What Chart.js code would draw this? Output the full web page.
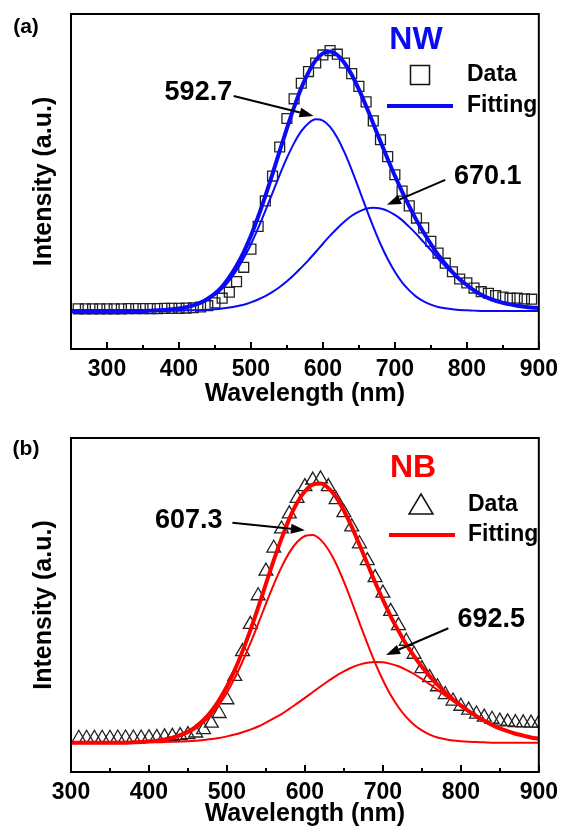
<!DOCTYPE html>
<html>
<head>
<meta charset="utf-8">
<script src="https://cdn.jsdelivr.net/npm/chart.js@4.4.1/dist/chart.umd.min.js"></script>
<style>
  html, body { margin: 0; padding: 0; background: #fff; }
  .panel { position: absolute; left: 0; width: 565px; height: 414px; }
  #pa { top: 0; }
  #pb { top: 414px; }
</style>
</head>
<body>
<div class="panel" id="pa"><canvas id="chartA" width="565" height="414"></canvas></div>
<div class="panel" id="pb"><canvas id="chartB" width="565" height="414"></canvas></div>
<script>
// ---- panel (a) : NW ----
const waveA = [250, 260, 270, 280, 290, 300, 310, 320, 330, 340, 350, 360, 370, 380, 390, 400, 410, 420, 430, 440,
  450, 460, 470, 480, 490, 500, 510, 520, 530, 540, 550, 560, 570, 580, 590, 600, 610, 620, 630, 640,
  650, 660, 670, 680, 690, 700, 710, 720, 730, 740, 750, 760, 770, 780, 790, 800, 810, 820, 830, 840,
  850, 860, 870, 880, 890, 900];
const fitA = [0, 0, 0, 0, 0, 0, 0, 0, 0, 0, 0, 0.001, 0.002, 0.003, 0.006, 0.009, 0.014, 0.021, 0.032, 0.047,
  0.067, 0.094, 0.130, 0.174, 0.227, 0.290, 0.363, 0.443, 0.528, 0.617, 0.704, 0.786, 0.860, 0.920, 0.966, 0.993, 1.000, 0.987, 0.956, 0.911,
  0.854, 0.790, 0.722, 0.653, 0.586, 0.521, 0.460, 0.403, 0.350, 0.302, 0.258, 0.217, 0.182, 0.150, 0.122, 0.100, 0.079, 0.062, 0.049, 0.039,
  0.031, 0.025, 0.020, 0.016, 0.013, 0.011];
const peak1A = [0, 0, 0, 0, 0, 0, 0, 0, 0, 0, 0, 0.001, 0.002, 0.003, 0.005, 0.008, 0.012, 0.019, 0.029, 0.043,
  0.061, 0.085, 0.117, 0.156, 0.203, 0.257, 0.319, 0.386, 0.455, 0.525, 0.590, 0.647, 0.693, 0.724, 0.739, 0.734, 0.710, 0.668, 0.611, 0.544,
  0.471, 0.396, 0.324, 0.258, 0.200, 0.151, 0.110, 0.079, 0.054, 0.037, 0.024, 0.015, 0.010, 0.006, 0.003, 0.002, 0.001, 0, 0, 0,
  0, 0, 0, 0, 0, 0];
const peak2A = [0, 0, 0, 0, 0, 0, 0, 0, 0, 0, 0, 0, 0, 0, 0.001, 0.001, 0.002, 0.002, 0.003, 0.004,
  0.006, 0.009, 0.013, 0.018, 0.024, 0.033, 0.044, 0.057, 0.073, 0.092, 0.114, 0.139, 0.167, 0.196, 0.227, 0.259, 0.290, 0.319, 0.345, 0.367,
  0.383, 0.394, 0.398, 0.395, 0.386, 0.370, 0.350, 0.324, 0.296, 0.265, 0.234, 0.202, 0.172, 0.144, 0.119, 0.098, 0.078, 0.062, 0.049, 0.039,
  0.031, 0.025, 0.020, 0.016, 0.013, 0.011];
const dataWaveA = [260, 270, 280, 290, 300, 310, 320, 330, 340, 350, 360, 370, 380, 390, 400, 410, 420, 430, 440, 450,
  460, 470, 480, 490, 500, 510, 520, 530, 540, 550, 560, 570, 580, 590, 600, 610, 620, 630, 640, 650,
  660, 670, 680, 690, 700, 710, 720, 730, 740, 750, 760, 770, 780, 790, 800, 810, 820, 830, 840, 850,
  860, 870, 880, 890];
const dataA = [0.008, 0.008, 0.008, 0.008, 0.008, 0.008, 0.008, 0.009, 0.009, 0.009, 0.009, 0.009, 0.010, 0.010, 0.010, 0.011, 0.012, 0.015, 0.020, 0.031,
  0.049, 0.072, 0.113, 0.168, 0.238, 0.326, 0.424, 0.520, 0.632, 0.742, 0.818, 0.878, 0.923, 0.956, 0.987, 1.004, 0.990, 0.956, 0.915, 0.866,
  0.806, 0.733, 0.660, 0.595, 0.525, 0.462, 0.405, 0.358, 0.320, 0.268, 0.223, 0.184, 0.151, 0.123, 0.108, 0.088, 0.074, 0.068, 0.059, 0.053,
  0.049, 0.049, 0.046, 0.045];
const xTicksA = [300, 400, 500, 600, 700, 800, 900];
const xMinorA = [350, 450, 550, 650, 750, 850];

// ---- panel (b) : NB ----
const waveB = [300, 310, 320, 330, 340, 350, 360, 370, 380, 390, 400, 410, 420, 430, 440, 450, 460, 470, 480, 490,
  500, 510, 520, 530, 540, 550, 560, 570, 580, 590, 600, 610, 620, 630, 640, 650, 660, 670, 680, 690,
  700, 710, 720, 730, 740, 750, 760, 770, 780, 790, 800, 810, 820, 830, 840, 850, 860, 870, 880, 890, 900];
const fitB = [0, 0, 0, 0, 0, 0, 0, 0, 0.001, 0.002, 0.005, 0.007, 0.012, 0.019, 0.029, 0.042, 0.061, 0.087, 0.121, 0.164,
  0.216, 0.279, 0.352, 0.432, 0.519, 0.611, 0.701, 0.785, 0.861, 0.923, 0.967, 0.993, 0.997, 0.980, 0.945, 0.893, 0.831, 0.761, 0.689, 0.617,
  0.550, 0.486, 0.430, 0.378, 0.333, 0.292, 0.256, 0.223, 0.194, 0.167, 0.143, 0.121, 0.102, 0.084, 0.068, 0.055, 0.044, 0.034, 0.027, 0.020, 0.015];
const peak1B = [0, 0, 0, 0, 0, 0, 0, 0, 0.001, 0.002, 0.004, 0.006, 0.010, 0.016, 0.025, 0.037, 0.054, 0.077, 0.107, 0.146,
  0.192, 0.248, 0.312, 0.382, 0.457, 0.534, 0.608, 0.675, 0.731, 0.772, 0.795, 0.799, 0.781, 0.743, 0.688, 0.619, 0.542, 0.461, 0.382, 0.307,
  0.241, 0.183, 0.136, 0.098, 0.069, 0.047, 0.031, 0.020, 0.013, 0.008, 0.005, 0.003, 0.002, 0.001, 0, 0, 0, 0, 0, 0, 0];
const peak2B = [0, 0, 0, 0, 0, 0, 0, 0, 0, 0, 0.001, 0.001, 0.002, 0.003, 0.004, 0.005, 0.007, 0.010, 0.014, 0.018,
  0.024, 0.031, 0.040, 0.050, 0.062, 0.077, 0.093, 0.110, 0.130, 0.151, 0.172, 0.194, 0.216, 0.237, 0.257, 0.274, 0.289, 0.300, 0.307, 0.310,
  0.309, 0.303, 0.294, 0.280, 0.264, 0.245, 0.225, 0.203, 0.181, 0.159, 0.138, 0.118, 0.100, 0.083, 0.068, 0.055, 0.044, 0.034, 0.027, 0.020, 0.015];
const dataWaveB = [310, 320, 330, 340, 350, 360, 370, 380, 390, 400, 410, 420, 430, 440, 450, 460, 470, 480, 490, 500,
  510, 520, 530, 540, 550, 560, 570, 580, 590, 600, 610, 620, 630, 640, 650, 660, 670, 680, 690, 700,
  710, 720, 730, 740, 750, 760, 770, 780, 790, 800, 810, 820, 830, 840, 850, 860, 870, 880, 890, 900];
const dataB = [0.017, 0.017, 0.017, 0.017, 0.017, 0.018, 0.018, 0.018, 0.018, 0.019, 0.020, 0.022, 0.024, 0.027, 0.031, 0.037, 0.050, 0.075, 0.112, 0.165,
  0.255, 0.350, 0.455, 0.565, 0.660, 0.748, 0.822, 0.880, 0.940, 0.985, 1.010, 1.015, 0.985, 0.935, 0.885, 0.830, 0.765, 0.700, 0.635, 0.575,
  0.505, 0.450, 0.390, 0.340, 0.285, 0.250, 0.215, 0.185, 0.160, 0.140, 0.125, 0.110, 0.098, 0.090, 0.083, 0.080, 0.077, 0.076, 0.075, 0.075];
const xTicksB = [300, 400, 500, 600, 700, 800, 900];
const xMinorB = [350, 450, 550, 650, 750, 850];

const FONT = '"Liberation Sans", Arial, sans-serif';

function toPoints(xs, ys) {
  return xs.map((x, i) => ({ x: x, y: ys[i] }));
}

function drawArrow(ctx, x0, y0, x1, y1) {
  const ang = Math.atan2(y1 - y0, x1 - x0);
  const len = 14, half = 5;
  const bx = x1 - Math.cos(ang) * len, by = y1 - Math.sin(ang) * len;
  ctx.beginPath();
  ctx.moveTo(x0, y0);
  ctx.lineTo(bx, by);
  ctx.stroke();
  ctx.beginPath();
  ctx.moveTo(x1, y1);
  ctx.lineTo(bx + Math.sin(ang) * half, by - Math.cos(ang) * half);
  ctx.lineTo(bx - Math.sin(ang) * half, by + Math.cos(ang) * half);
  ctx.closePath();
  ctx.fill();
}

// frame, inward ticks, annotations and legend
const framePlugin = {
  id: 'frame',
  afterDatasetsDraw(chart, args, opts) {
    const { ctx, chartArea: a, scales: { x, y } } = chart;
    ctx.save();
    ctx.strokeStyle = '#000';
    ctx.fillStyle = '#000';
    ctx.lineWidth = 2;
    ctx.strokeRect(a.left, a.top, a.right - a.left, a.bottom - a.top);

    opts.major.forEach(v => {
      const px = Math.round(x.getPixelForValue(v));
      ctx.beginPath(); ctx.moveTo(px, a.bottom); ctx.lineTo(px, a.bottom - 7); ctx.stroke();
    });
    opts.minor.forEach(v => {
      const px = Math.round(x.getPixelForValue(v));
      ctx.beginPath(); ctx.moveTo(px, a.bottom); ctx.lineTo(px, a.bottom - 4); ctx.stroke();
    });

    // peak annotations
    ctx.font = 'bold 27px ' + FONT;
    ctx.textAlign = 'center';
    ctx.textBaseline = 'middle';
    opts.notes.forEach(n => {
      ctx.fillText(n.text, x.getPixelForValue(n.at[0]), y.getPixelForValue(n.at[1]));
      ctx.lineWidth = 2;
      drawArrow(ctx, x.getPixelForValue(n.from[0]), y.getPixelForValue(n.from[1]),
        x.getPixelForValue(n.to[0]), y.getPixelForValue(n.to[1]));
    });

    // legend
    const lg = opts.legend;
    ctx.fillStyle = lg.color;
    ctx.font = 'bold 32px ' + FONT;
    ctx.fillText(lg.title, a.left + lg.titleAt[0], a.top + lg.titleAt[1]);

    ctx.strokeStyle = '#111';
    ctx.lineWidth = 1.5;
    const mx = a.left + lg.markAt[0], my = a.top + lg.markAt[1];
    if (lg.marker === 'rect') {
      ctx.strokeRect(mx - 9.5, my - 9.5, 19, 19);
    } else {
      ctx.beginPath();
      ctx.moveTo(mx, my - 11);
      ctx.lineTo(mx + 12, my + 9);
      ctx.lineTo(mx - 12, my + 9);
      ctx.closePath();
      ctx.stroke();
    }
    ctx.strokeStyle = lg.color;
    ctx.lineWidth = 4;
    ctx.beginPath();
    ctx.moveTo(a.left + lg.lineAt[0], a.top + lg.lineAt[2]);
    ctx.lineTo(a.left + lg.lineAt[1], a.top + lg.lineAt[2]);
    ctx.stroke();

    ctx.fillStyle = '#000';
    ctx.font = 'bold 23px ' + FONT;
    ctx.textAlign = 'left';
    ctx.fillText('Data', a.left + lg.textX, my);
    ctx.fillText('Fitting', a.left + lg.textX, a.top + lg.lineAt[2]);

    // panel letter
    ctx.font = 'bold 21px ' + FONT;
    ctx.textAlign = 'center';
    ctx.fillText(opts.panel, 26, opts.panelY);
    ctx.restore();
  }
};

function makeChart(id, cfg) {
  return new Chart(document.getElementById(id), {
    type: 'scatter',
    data: {
      datasets: [
        {
          label: 'Fitting',
          data: toPoints(cfg.wave, cfg.fit),
          showLine: true,
          borderColor: cfg.color,
          borderWidth: 4,
          pointRadius: 0,
          cubicInterpolationMode: 'monotone',
          order: 1
        },
        {
          label: cfg.peaks[0],
          data: toPoints(cfg.wave, cfg.p1),
          showLine: true,
          borderColor: cfg.color,
          borderWidth: 2,
          pointRadius: 0,
          cubicInterpolationMode: 'monotone',
          order: 2
        },
        {
          label: cfg.peaks[1],
          data: toPoints(cfg.wave, cfg.p2),
          showLine: true,
          borderColor: cfg.color,
          borderWidth: 2,
          pointRadius: 0,
          cubicInterpolationMode: 'monotone',
          order: 2
        },
        {
          label: 'Data',
          data: toPoints(cfg.dataWave, cfg.data),
          showLine: false,
          pointStyle: cfg.marker,
          pointRadius: cfg.markerRadius,
          borderColor: '#222',
          borderWidth: 1.3,
          backgroundColor: 'rgba(0,0,0,0)',
          order: 3
        }
      ]
    },
    options: {
      responsive: false,
      animation: false,
      events: [],
      layout: { padding: { left: 0, right: 19, top: cfg.top, bottom: 0 } },
      plugins: {
        legend: { display: false },
        tooltip: { enabled: false },
        frame: cfg.frame
      },
      scales: {
        x: {
          type: 'linear',
          min: cfg.xMin,
          max: 900,
          grid: { display: false, drawTicks: false },
          border: { display: false },
          afterBuildTicks: s => { s.ticks = cfg.xTicks.map(v => ({ value: v })); },
          afterFit: s => { s.height = cfg.xHeight; },
          ticks: {
            autoSkip: false,
            maxRotation: 0,
            padding: 7,
            color: '#000',
            font: { family: FONT, size: 23, weight: 'bold' }
          },
          title: {
            display: true,
            text: 'Wavelength (nm)',
            color: '#000',
            font: { family: FONT, size: 25, weight: 'bold' },
            padding: { top: 0, bottom: cfg.titlePad }
          }
        },
        y: {
          min: cfg.yMin,
          max: cfg.yMax,
          grid: { display: false, drawTicks: false },
          border: { display: false },
          ticks: { display: false },
          afterFit: s => { s.width = 71; },
          title: {
            display: true,
            text: 'Intensity (a.u.)',
            color: '#000',
            font: { family: FONT, size: 25, weight: 'bold' },
            padding: { top: 29, bottom: 0 }
          }
        }
      }
    },
    plugins: [framePlugin]
  });
}

makeChart('chartA', {
  wave: waveA, fit: fitA, p1: peak1A, p2: peak2A,
  dataWave: dataWaveA, data: dataA,
  peaks: ['592.7', '670.1'],
  color: '#0a0af5',
  marker: 'rect', markerRadius: 7,
  xMin: 250, xTicks: xTicksA,
  yMin: -0.147, yMax: 1.145,
  top: 14, xHeight: 65, titlePad: 5,
  frame: {
    major: xTicksA, minor: xMinorA,
    panel: '(a)', panelY: 27,
    notes: [
      { text: '592.7', at: [427, 0.841], from: [476, 0.829], to: [587, 0.752] },
      { text: '670.1', at: [829, 0.517], from: [770, 0.505], to: [689, 0.409] }
    ],
    legend: {
      title: 'NW', color: '#0a0af5', marker: 'rect',
      titleAt: [345, 26], markAt: [349, 61], lineAt: [316, 382, 92], textX: 396
    }
  }
});

makeChart('chartB', {
  wave: waveB, fit: fitB, p1: peak1B, p2: peak2B,
  dataWave: dataWaveB, data: dataB,
  peaks: ['607.3', '692.5'],
  color: '#ff0000',
  marker: 'triangle', markerRadius: 8,
  xMin: 300, xTicks: xTicksB,
  yMin: -0.113, yMax: 1.172,
  top: 24, xHeight: 56, titlePad: -1,
  frame: {
    major: xTicksB, minor: xMinorB,
    panel: '(b)', panelY: 35,
    notes: [
      { text: '607.3', at: [451, 0.853], from: [507, 0.846], to: [600, 0.817] },
      { text: '692.5', at: [839, 0.472], from: [784, 0.44], to: [704, 0.337] }
    ],
    legend: {
      title: 'NB', color: '#ff0000', marker: 'triangle',
      titleAt: [342, 30], markAt: [350, 67], lineAt: [318, 384, 97], textX: 397
    }
  }
});
</script>
</body>
</html>
